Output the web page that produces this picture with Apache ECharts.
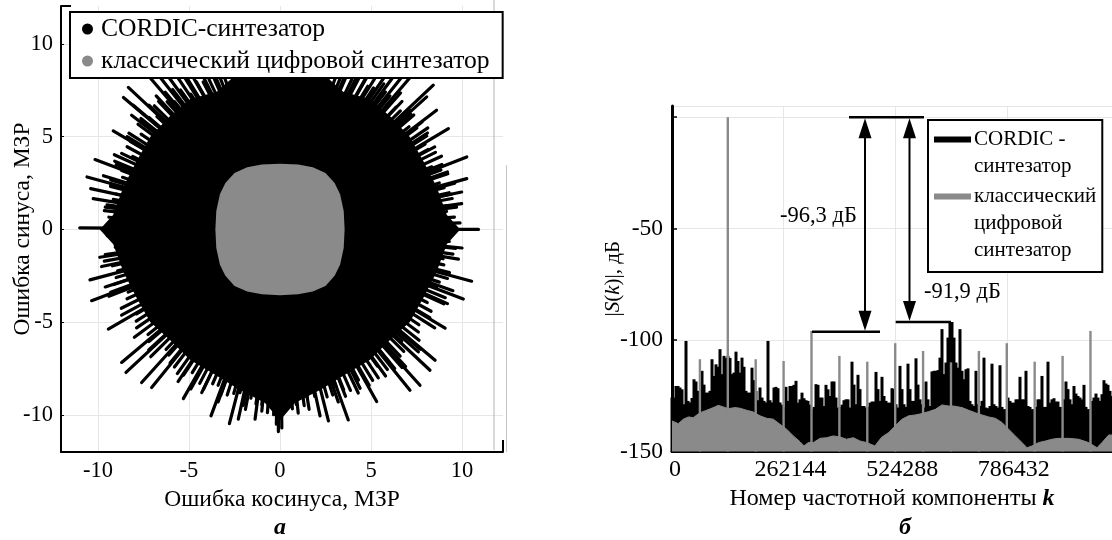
<!DOCTYPE html>
<html><head><meta charset="utf-8">
<style>html,body{margin:0;padding:0;background:#fff}#c{width:1112px;height:540px}</style>
<script src="https://cdn.jsdelivr.net/npm/echarts@6/dist/echarts.min.js"></script>
</head><body><div id="c"></div>
<script>
// ---------- panel a: error constellation (МЗР) ----------
const ticksA = [-10, -5, 0, 5, 10];
const spikeX = [-8.33,-8.6,-8.06,-9.16,-8.15,-10.16,-10.6,-10.4,-10.26,-11,-7.5,-6.9,-6.4,-5.9,-5.5,-5,-4.4,-3.7,-3.2,
  8.42,8.06,8.6,9.25,8.5,10.26,10.26,9.98,9.98,10.9,7.5,7,6.5,6,5.5,5,4.4,3.7,3.2,
  -10.44,-10.35,-9.43,-8.7,-8.46,-7.6,-7.05,-5.31,-3.79,-2.78,-2.29,-1.37,-0.09,-0.2,0.1,
  3.75,2.66,2.2,5.31,4.4,7.14,7.69,8.24,8.52,9.07,10.07,10.53,
  -9.6,-9.3,-9.7,-9,-8.7,-8.4,-7.6,-7.2,-6.8,-6.3,-5.6,-4.9,-4.3,-3.4,-1.9,-1,1,1.6,3.2,3.6,4.9,5.8,6.3,6.9,7.6,
  9.7,9.4,9.6,9.2,8.9,8.1,7.8,7.2,6.7,-9.9,-9.8,10,9.8,-9.6,-9.4,9.5,9.2];
const spikeY = [7.66,7.12,6.7,5.32,6.16,3.77,2.83,2.2,1.66,0.09,8.6,8.6,8.6,8.6,8.6,8.6,8.6,8.6,8.6,
  7.78,7.15,6.43,5.44,4.45,3.91,2.74,2.02,1.39,0,8.6,8.6,8.6,8.6,8.6,8.6,8.6,8.6,8.6,
  -2.72,-3.84,-5.37,-7.17,-7.71,-8.25,-8.52,-9.12,-10.05,-10.47,-10.23,-10.23,-10.9,-10.5,-10.7,
  -10.27,-10.32,-10.05,-9.28,-8.56,-8.67,-8.4,-7.59,-7.05,-5.32,-3.75,-2.79,
  1.2,2.4,2.9,3.5,4.1,5,5.9,6.7,7.2,7.4,-8.2,-8.6,-8.8,-9.3,-9.7,-9.8,-9.9,-9.7,-9.3,-9,-8.4,-7.9,-7.5,-7.4,-6.6,
  1.2,1.9,2.5,3.1,3.5,5.2,5.8,6.2,6.9,-1.5,-2,-1,-1.6,-3.1,-3.6,-3.3,-4];
const fringeX = [9.58,9.21,9.29,8.75,8.84,8.87,8.12,8.06,7.52,7.35,6.61,6.62,5.79,5.14,4.75,3.94,3.38,2.78,
  -9.4,-9.5,-9,-9.3,-8.7,-9.1,-8.4,-8.3,-7.8,-7.2,-6.9,-6.2,-5.9,-4.9,-4.6,-3.9,-3.3,-2.7,
  -9.1,-9.6,-9.2,-9,-9.3,-8.4,-8.7,-7.9,-8,-7.2,-7.1,-6.1,-5.8,-5.3,-4.4,-4.2,-3.4,-2.9,-2.2,-1.6,-1,-0.35,
  9.3,9.5,9,9.2,8.6,9,8.3,8.5,7.6,7.7,6.8,6.7,5.9,5.4,4.5,4.3,3.5,2.9,2.1,1.5,0.9,0.3,
  9.89,9.15,9.46,9.02,9.22,8.34,8.54,7.97,8.12,7.09,7.13,6.39,6.04,5.7,4.82,4.36,3.66,
  -9.19,-9.65,-9.16,-9.31,-8.65,-9.08,-8.09,-8.23,-7.63,-7.64,-6.76,-6.67,-5.79,-5.47,-5.09,-4.22,-3.7,
  -9.49,-9.05,-9.65,-8.92,-9.13,-8.34,-8.72,-7.88,-7.88,-7.25,-7.21,-6.26,-6.04,-5.64,-4.82,-4.41,-3.7,-3.25,-2.54,-2.02,-1.32,-0.69,
  9.29,9.65,8.96,9.31,8.75,9.08,8.09,8.23,7.63,7.64,6.69,6.6,5.98,5.35,5.09,4.31,3.87,3.08,2.59,1.91,1.33,0.68];
const fringeY = [0.67,1.29,1.98,2.51,3.21,3.95,4.31,5.04,5.47,6.17,6.39,7.36,7.41,7.63,8.23,8.09,8.34,8.56,
  0.66,1.33,1.91,2.67,3.18,4.03,4.46,5.19,5.67,6.04,6.67,6.89,7.55,7.3,7.97,8.09,8.2,8.4,
  -0.64,-1.35,-1.96,-2.59,-3.38,-3.74,-4.62,-4.94,-5.81,-6.04,-6.86,-6.77,-7.42,-7.86,-7.62,-8.62,-8.4,-8.93,-8.8,-9.1,-9.45,-9.99,
  -0.65,-1.33,-1.91,-2.64,-3.13,-4.01,-4.41,-5.31,-5.53,-6.46,-6.57,-7.44,-7.55,-8,-7.79,-8.82,-8.65,-8.93,-8.44,-9.1,-9.45,-9.6,
  0.35,0.97,1.67,2.25,3,3.38,4.16,4.6,5.48,5.54,6.42,6.61,7.2,7.85,7.72,8.21,8.3,
  0.32,1.02,1.62,2.32,2.81,3.68,3.94,4.75,5.14,5.98,6.09,6.9,6.89,7.52,8.14,7.95,8.32,
  -0.33,-0.96,-1.71,-2.23,-2.97,-3.38,-4.25,-4.55,-5.31,-5.67,-6.49,-6.47,-7.2,-7.77,-7.72,-8.3,-8.32,-8.93,-8.84,-9.49,-9.41,-9.88,
  -0.33,-1.02,-1.58,-2.32,-2.84,-3.68,-3.94,-4.75,-5.14,-5.98,-6.02,-6.83,-7.12,-7.36,-8.14,-8.12,-8.68,-8.46,-9.03,-9,-9.5,-9.68];
const bodyX = [0,1.2,2.7,3.47,4.93,6.08,7.13,7.88,8.6,9.16,9.9,9.16,8.6,7.88,7.13,6,4.93,3.63,2.3,0.82,0,
  -0.82,-2.3,-3.63,-4.93,-6,-7.13,-7.88,-8.6,-9.16,-9.9,-9.16,-8.6,-7.88,-7.13,-6.08,-4.93,-3.47,-2.7,-1.2];
const bodyY = [9.6,9.2,8.1,7.43,7.04,6.08,4.99,3.68,2.3,0.8,0,-0.8,-2.3,-3.68,-4.99,-6,-7.04,-7.8,-8.6,-9.36,-10.3,
  -9.36,-8.6,-7.8,-7.04,-6,-4.99,-3.68,-2.3,-0.8,0,0.8,2.3,3.68,4.99,6.08,7.04,7.43,8.1,9.2];
const classicX = [0,1,1.8,2.5,3,3.3,3.5,3.55,3.5,3.3,3,2.5,1.8,1,0,-1,-1.8,-2.5,-3,-3.3,-3.5,-3.55,-3.5,-3.3,-3,-2.5,-1.8,-1];
const classicY = [3.55,3.5,3.35,3.05,2.5,1.9,1,0,-1,-1.9,-2.5,-3.05,-3.35,-3.5,-3.55,-3.5,-3.35,-3.05,-2.5,-1.9,-1,0,1,1.9,2.5,3.05,3.35,3.5];

// ---------- panel б: spectrum (дБ) ----------
const cordicStepK = 4698;
const cordicDb = [
 -125.8,-125.8,-120.6,-120.6,-121.3,-122.1,-128.8,-100.4,-127.3,-128,-126,-117.6,-118.6,-122.8,-128,-113.8,-120,-123.6,-123.6,-122.8,
 -108.6,-116.1,-110.9,-112,-104.1,-115.3,-107.1,-108,-107.1,-108,-115.3,-114.6,-105.2,-109.4,-114.6,-107.9,-112,-122.8,-123.6,-123.6,
 -112.4,-118,-122.8,-127,-121.3,-125.8,-127.3,-128,-100.4,-127,-128,-121.3,-121,-121.6,-128,-129,-130,-121,-127.3,-120.6,
 -120.6,-120.1,-118.3,-128.1,-126.6,-123.6,-126.1,-127,-127.3,-129,-131,-130,-119.8,-120.1,-125.8,-125.8,-129.6,-120.1,-122.1,-125.1,
 -118.6,-118.6,-125.8,-130.3,-130,-129,-127,-126.6,-126.6,-130.3,-109.7,-120,-128.8,-115.6,-122,-129.6,-129.6,-130.3,-130,-128.1,
 -127.6,-127.6,-114.3,-122,-127.3,-116.5,
 -125.1,-127.3,-128.1,-128.1,-121.6,-122,-128.8,-130.3,-111.6,-122,-128.8,-130,-110.6,-122,-127.3,-127.3,-108.2,-120,-126.6,-128.8,
 -130.3,-118.6,-126.6,-129.6,-114.1,-113.8,-113.8,-113.5,-107.9,-95.1,-115.3,-110.1,-98.9,-91.9,-91.9,-98.9,-110.1,-112.4,-95.1,-113.8,
 -117.6,-113.1,-112.7,-127.3,-128.8,-129.6,-113.8,-128.8,-129.6,-127.3,-107.9,-130.3,-130.6,-129.6,-110.6,-128.8,-129.6,-130.3,-111.3,-130,
 -131,-131,-125.8,-127.3,-128.1,-128.1,-126.6,-126.6,-116.5,-126.6,-126.6,-113.8,-129.6,-130,-131,-131,-130,-126.6,-126.6,-116.1,
 -130,-130,-109.7,-128.1,-126.6,-126.1,-127.6,-127.6,-130,-130,-126.6,-118.6,-122,-126.6,-128.8,-120.6,-124,-125.1,-125.8,-126.6,
 -120.1,-130,-131,-131,-127.3,-125.8,-124,-125.8,-127.3,-124.3,-118,-119.5,-120.1,-122.8,-125.1];
const classicK = [0,14900,26600,38400,50100,65800,81400,97100,108800,120600,132300,148000,159700,175400,191100,206700,222400,238000,253700,269400,285000,300700,310100,320200,332000,347700,363300,379000,394600,410300,426000,441600,457300,476800,488600,493300,509000,524600,540300,556000,571600,587300,602900,618600,634200,649900,661600,681200,696900,712500,728200,743900,759500,775200,790800,806500,822200,833900,845600,861300,877000,892600,908300,931800,955300,978800,998300,1010100,1025700,1033600];
const classicDb = [-136.3,-137.5,-135.5,-134.5,-134.8,-132.6,-131.5,-130.3,-129.3,-130,-130.8,-130.3,-130.6,-131.5,-132.3,-134,-135.1,-135.5,-137.8,-140,-143,-145.6,-147.5,-146,-146,-144.1,-143.8,-143,-143.5,-144.5,-143.8,-145.3,-146,-147.5,-144.5,-143.5,-141.5,-138.5,-135.5,-134,-133.6,-133,-132.1,-131.1,-129.1,-129.6,-129.6,-130.3,-131.5,-132.6,-133.6,-134.5,-135.1,-137,-140,-143,-146,-148.3,-147.5,-146,-145.3,-144.5,-144.1,-144.1,-144.5,-146,-148.3,-146,-142.6,-142.6];
const spurK = [65536,131072,196608,262144,327680,393216,458752,524288,589824,655360,720896,786432,851968,917504,983040];
const spurDb = [-108.6,0,-108.6,-109.4,-95.9,-107.1,-109.7,-101.4,-104.9,-110,-104.9,-101.4,-109.7,-107.1,-95.9];
const refLineK1 = [415800, 328900, 525500];
const refLineK2 = [592000, 488600, 655360];
const refLineDb = [0, -96.3, -91.9];
const arrowK = [453400, 557900];
const arrowDb = [-96.3, -91.9];

const SERIF = '"Liberation Serif","Times New Roman",serif';
const INK = '#000', GREY = '#8a8a8a', GRID = '#e6e6e6';
const nameCA = 'CORDIC-синтезатор', nameGA = 'классический цифровой синтезатор';
const nameCB = 'CORDIC -\nсинтезатор', nameGB = 'классический\nцифровой\nсинтезатор';

const zip = (a, b) => a.map((v, i) => [v, b[i]]);
function polygonSeries(name, xs, ys, color, z) {
  return { type:'custom', name, xAxisIndex:0, yAxisIndex:0, z, silent:true, itemStyle:{color},
    data:[[xs[0], ys[0]]], encode:{x:0,y:1},
    renderItem(p, api){ return {type:'polygon', shape:{points:xs.map((x,i)=>api.coord([x,ys[i]]))}, style:{fill:color}}; } };
}
function spikeSeries(xs, ys) {
  return { type:'custom', name:nameCA, xAxisIndex:0, yAxisIndex:0, z:2, silent:true, itemStyle:{color:INK},
     data:zip(xs,ys), encode:{x:0,y:1},
     renderItem(p,api){ const a=api.coord([0,0]), b=api.coord([api.value(0),api.value(1)]);
       return {type:'line',shape:{x1:a[0],y1:a[1],x2:b[0],y2:b[1]},style:{stroke:INK,lineWidth:3.2,lineCap:'round'}}; } };
}
const axisCommon = { axisLabel:{fontFamily:SERIF,fontSize:22.5,color:INK},
  nameTextStyle:{fontFamily:SERIF,fontSize:23.5,color:INK}, nameLocation:'middle',
  splitLine:{show:true,lineStyle:{color:GRID,width:1}} };
const tickRich = { fontFamily:SERIF, fontSize:24, color:INK };

const option = {
  backgroundColor:'#fff', animation:false,
  grid:[{left:61,top:6,width:442,height:446,outerBoundsMode:'none'},{left:672,top:106,width:440,height:345.5,outerBoundsMode:'none'}],
  xAxis:[
   {...axisCommon, type:'value', gridIndex:0, min:-12.03, max:12.25, name:'Ошибка косинуса, МЗР', nameGap:29,
    axisLine:{onZero:false,lineStyle:{color:INK,width:2}}, axisTick:{show:false,customValues:ticksA},
    axisLabel:{...axisCommon.axisLabel,margin:8,customValues:ticksA,formatter:v=>String(v)}},
   {...axisCommon, type:'value', gridIndex:1, min:0, max:1033600, interval:262144, name:'Номер частотной компоненты {k|k}', nameGap:33,
    nameTextStyle:{...axisCommon.nameTextStyle,fontSize:24,rich:{k:{fontFamily:SERIF,fontSize:24,fontStyle:'italic',fontWeight:'bold',color:INK}}},
    axisLine:{onZero:false,lineStyle:{color:INK,width:3}}, axisTick:{show:false},
    axisLabel:{...axisCommon.axisLabel,fontSize:24,margin:6,showMaxLabel:false,
      rich:{n:{...tickRich,padding:[0,0,0,14]},z:{...tickRich,padding:[0,0,0,6]}},
      formatter:v=>v===0?'{z|0}':'{n|'+v+'}'}}
  ],
  yAxis:[
   {...axisCommon, type:'value', gridIndex:0, min:-12, max:12.05, name:'Ошибка синуса, МЗР', nameGap:26, nameMoveOverlap:false,
    axisLine:{show:true,onZero:false,lineStyle:{color:INK,width:2}}, axisTick:{show:true,inside:true,length:3,lineStyle:{color:INK},customValues:ticksA},
    axisLabel:{...axisCommon.axisLabel,margin:8,customValues:ticksA,formatter:v=>String(v)}},
   {...axisCommon, type:'value', gridIndex:1, min:-150, max:5, interval:50, name:'|{i|S}({i|k})|, дБ', nameGap:48, nameMoveOverlap:false,
    nameTextStyle:{...axisCommon.nameTextStyle,fontSize:21,rich:{i:{fontFamily:SERIF,fontSize:21,fontStyle:'italic',color:INK}}},
    axisLine:{show:true,onZero:false,lineStyle:{color:INK,width:3}}, axisTick:{show:true,inside:true,length:5,lineStyle:{color:INK,width:1.5}},
    axisLabel:{...axisCommon.axisLabel,fontSize:23.5,margin:9,showMaxLabel:false,formatter:v=>v===0?'':String(v)}}
  ],
  legend:[
   {left:70,top:12,orient:'vertical',data:[nameCA,nameGA],backgroundColor:'#fff',borderColor:INK,borderWidth:2,
    padding:[4,13,4,12],itemGap:6,itemWidth:11,itemHeight:11,icon:'circle',selectedMode:false,
    textStyle:{fontFamily:SERIF,fontSize:25.6,color:INK,padding:[0,0,0,3]}},
   {left:928,top:120,orient:'vertical',backgroundColor:'#fff',borderColor:INK,borderWidth:2,
    padding:[3,6,8,6],itemGap:0,itemWidth:37,itemHeight:60,itemStyle:{borderWidth:0},selectedMode:false,
    data:[{name:nameCB,icon:'path://M0,0h.01v.01zM0,13.5H37V19.5H0ZM0,60h.01v-.01z'},
          {name:nameGB,icon:'path://M0,0H37V6H0ZM0,60h.01v-.01z'}],
    textStyle:{fontFamily:SERIF,fontSize:21,color:INK,lineHeight:27,padding:[0,0,0,-2]}}
  ],
  series:[
   polygonSeries(nameCA, bodyX, bodyY, INK, 2),
   spikeSeries(spikeX, spikeY),
   spikeSeries(fringeX, fringeY),
   polygonSeries(nameGA, classicX, classicY, GREY, 3),
   { type:'custom', name:nameCB, xAxisIndex:1, yAxisIndex:1, z:2, silent:true, itemStyle:{color:INK},
     data:cordicDb.map((d,i)=>[i*cordicStepK,d]), encode:{x:0,y:1},
     renderItem(p,api){ const a=api.coord([api.value(0),api.value(1)]), b=api.coord([api.value(0),-150]);
       return {type:'rect',shape:{x:a[0]-1.5,y:a[1],width:3,height:b[1]-a[1]},style:{fill:INK}}; } },
   { type:'line', name:nameGB, xAxisIndex:1, yAxisIndex:1, z:3, silent:true, symbol:'none', color:GREY,
     lineStyle:{color:GREY,width:1}, itemStyle:{color:GREY}, areaStyle:{color:GREY,opacity:1,origin:'start'},
     data:zip(classicK,classicDb) },
   { type:'custom', name:nameGB, xAxisIndex:1, yAxisIndex:1, z:4, silent:true, itemStyle:{color:GREY},
     data:zip(spurK,spurDb), encode:{x:0,y:1},
     renderItem(p,api){ const a=api.coord([api.value(0),-150]), b=api.coord([api.value(0),api.value(1)]);
       return {type:'line',shape:{x1:a[0],y1:a[1],x2:b[0],y2:b[1]},style:{stroke:GREY,lineWidth:2.4}}; } },
   { type:'custom', name:'refs', xAxisIndex:1, yAxisIndex:1, z:5, silent:true,
     data:refLineK1.map((k,i)=>[k,refLineDb[i],refLineK2[i]]), encode:{x:0,y:1},
     renderItem(p,api){ const a=api.coord([api.value(0),api.value(1)]), b=api.coord([api.value(2),api.value(1)]);
       return {type:'line',shape:{x1:a[0],y1:a[1],x2:b[0],y2:b[1]},style:{stroke:INK,lineWidth:2.5}}; } },
   { type:'custom', name:'arrows', xAxisIndex:1, yAxisIndex:1, z:5, silent:true,
     data:zip(arrowK,arrowDb), encode:{x:0,y:1},
     renderItem(p,api){ const t=api.coord([api.value(0),0]), b=api.coord([api.value(0),api.value(1)]);
       const x=t[0], hw=6.5, len=20, y1=t[1]+1, y2=b[1]-1;
       return {type:'group',children:[
        {type:'line',shape:{x1:x,y1:y1+10,x2:x,y2:y2-10},style:{stroke:INK,lineWidth:2}},
        {type:'polygon',shape:{points:[[x,y1],[x-hw,y1+len],[x+hw,y1+len]]},style:{fill:INK}},
        {type:'polygon',shape:{points:[[x,y2],[x-hw,y2-len],[x+hw,y2-len]]},style:{fill:INK}}]}; } }
  ],
  graphic:[
   {type:'line',shape:{x1:494,y1:0,x2:494,y2:450},style:{stroke:'#b4b4b4',lineWidth:1},z:1},
   {type:'line',shape:{x1:506.5,y1:165,x2:506.5,y2:452},style:{stroke:'#c4c4c4',lineWidth:1},z:1},
   {type:'line',shape:{x1:61,y1:6,x2:71,y2:6},style:{stroke:INK,lineWidth:2},z:5},
   {type:'line',shape:{x1:503,y1:440,x2:503,y2:452},style:{stroke:INK,lineWidth:2},z:5},
   {type:'text',left:780,top:205,z:10,style:{text:'-96,3 дБ',font:'22.5px '+SERIF,fill:INK}},
   {type:'text',left:924,top:281,z:10,style:{text:'-91,9 дБ',font:'22.5px '+SERIF,fill:INK}},
   {type:'text',left:274,top:516,z:10,style:{text:'а',font:'italic bold 24px '+SERIF,fill:INK}},
   {type:'text',left:899,top:516,z:10,style:{text:'б',font:'italic bold 24px '+SERIF,fill:INK}}
  ]
};
echarts.init(document.getElementById('c'),null,{renderer:'canvas'}).setOption(option);
</script></body></html>
